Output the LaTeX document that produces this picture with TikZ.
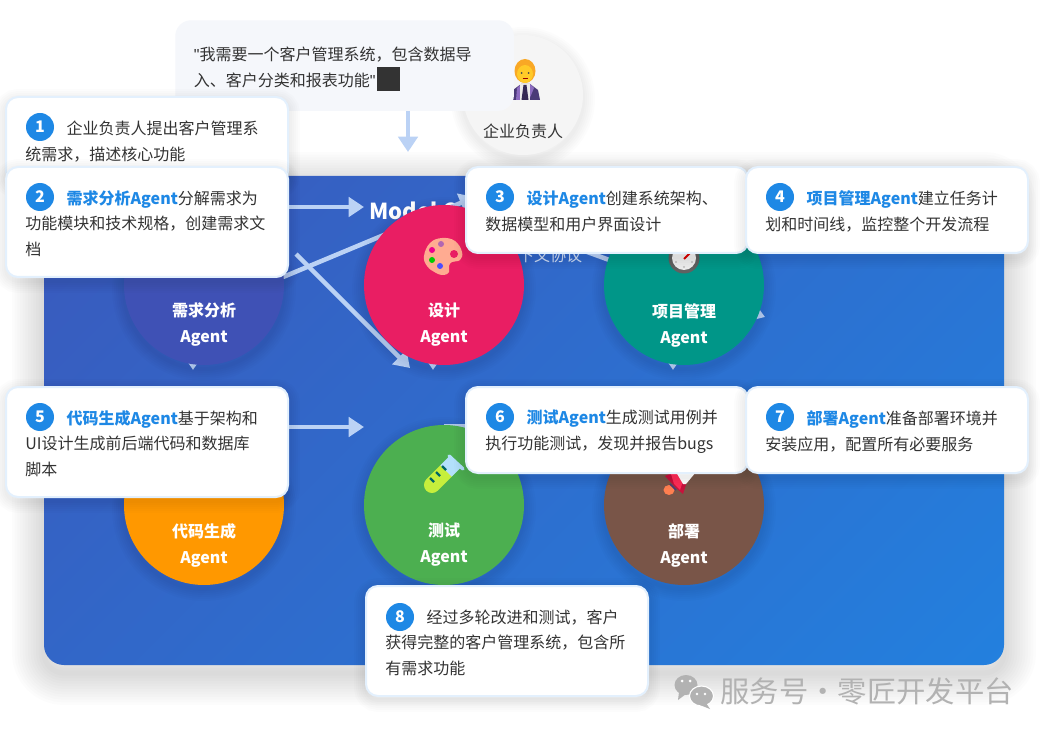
\documentclass[tikz,border=0pt]{standalone}
\usepackage{fontspec}
\setmainfont{Noto Sans CJK SC}
\newfontfamily\quotefont{Liberation Sans}
\usepackage{xcolor}
\usetikzlibrary{arrows.meta}

\definecolor{flowline}{HTML}{BBD2F5}
\definecolor{cardedge}{HTML}{E3F0FD}
\definecolor{badgeblue}{HTML}{1E88E5}
\definecolor{bodytext}{HTML}{333333}
\definecolor{panelstart}{HTML}{3F51B5}
\definecolor{panelend}{HTML}{1E88E5}
\definecolor{markgray}{HTML}{B2B2B2}
\definecolor{bubblefill}{HTML}{F5F7FB}
\definecolor{reqfill}{HTML}{3F51B5}
\definecolor{designfill}{HTML}{E91E63}
\definecolor{pmfill}{HTML}{009688}
\definecolor{codefill}{HTML}{FF9800}
\definecolor{testfill}{HTML}{4CAF50}
\definecolor{deployfill}{HTML}{795548}
\definecolor{tubeliquid}{HTML}{C6EF3C}
\definecolor{tubeglass}{HTML}{B3E0FB}
\definecolor{palettefill}{HTML}{FFAB91}
\definecolor{rocketbody}{HTML}{FF2D5A}
\definecolor{rocketfin}{HTML}{C8123C}
\definecolor{rocketflame}{HTML}{FF7F50}
\definecolor{suitdark}{HTML}{4A3A78}
\definecolor{suitlight}{HTML}{8C6CC0}
\definecolor{hairfill}{HTML}{F9A825}
\definecolor{facefill}{HTML}{FFCA28}

\newcommand{\agentname}[1]{\textcolor{badgeblue}{\textbf{#1}}}
\newcommand{\leadin}{\rule{0pt}{12.5pt}\hspace*{31pt}}

\tikzset{
  softlayer/.style={preaction={draw=black,line width=#1,opacity=0.011,transform canvas={yshift=-3pt}}},
  softshadow/.style={softlayer=3pt,softlayer=6pt,softlayer=9pt,softlayer=12pt,softlayer=15pt,softlayer=18pt},
  card/.style={draw=cardedge,line width=1.5pt,fill=white,rounded corners=9pt,anchor=north west,
    minimum width=211.5pt,minimum height=64.5pt,inner xsep=14.5pt,inner ysep=0pt,text width=182.5pt,align=left,
    text=bodytext,font=\fontsize{12}{19.2}\selectfont,softshadow},
  tallcard/.style={card,minimum height=82.5pt},
  badge/.style={circle,fill=badgeblue,text=white,minimum size=21pt,inner sep=0pt,font=\fontsize{12}{12}\selectfont\bfseries},
  agent/.style={circle,minimum size=120pt,inner sep=0pt,softshadow},
  agentlabel/.style={text=white,align=center,inner sep=0pt,font=\fontsize{12}{19.5}\selectfont\bfseries},
  flow/.style={draw=flowline,line width=3.4pt,-{Triangle[length=11.5pt,width=14.5pt]}},
  panellayer/.style={preaction={draw=black,line width=#1,opacity=0.010,transform canvas={yshift=-6pt}}}
}

\begin{document}
\begin{tikzpicture}[x=0.75pt,y=-0.75pt]
\useasboundingbox (0,0) rectangle (1046,734);
\fill[white] (0,0) rectangle (1046,734);

% Panel
\path[rounded corners=15pt,panellayer=4pt,panellayer=8pt,panellayer=12pt,panellayer=16pt,panellayer=20pt,panellayer=24pt,panellayer=28pt,panellayer=32pt,panellayer=36pt,panellayer=40pt,panellayer=44pt,panellayer=48pt] (44,176) rectangle (1004,665);
\begin{scope}
\clip[rounded corners=15pt] (44,176) rectangle (1004,665);
\shade[top color=panelstart,bottom color=panelend,shading angle=45] (-200.5,-304) rectangle (1248.5,1145);
\end{scope}
\node[text=white,anchor=west,inner sep=0pt,font=\fontsize{16.5}{20}\selectfont\bfseries] (mcptitle) at (369,211) {Model C};
\node[text=white,opacity=0.75,inner sep=0pt,font=\fontsize{12}{14}\selectfont] (mcpsub) at (542,255) {上下文协议};

% Client
\node[circle,fill=black!4,minimum size=90pt,inner sep=0pt,softshadow] (client) at (523,95) {};
\node[text=bodytext,inner sep=0pt,font=\fontsize{12}{14}\selectfont] (clientlabel) at (523,131) {企业负责人};
\fill[suitdark] (511,100) -- (513,90) -- (521,84) -- (530,84) -- (538,90) -- (540,100) -- cycle;
\fill[suitlight] (516,100) -- (517,88) -- (521,84) -- (522,100) -- cycle;
\fill[suitlight] (529,100) -- (534,88) -- (530,84) -- (528,100) -- cycle;
\fill[black!8] (520,84) -- (530,84) -- (530,100) -- (520,100) -- cycle;
\fill[suitdark!70!black] (523.5,85) -- (526.5,85) -- (528.5,100) -- (521.5,100) -- cycle;
\fill[hairfill] (525,71) ellipse [x radius=10.5,y radius=12];
\fill[facefill] (525,74) ellipse [x radius=8,y radius=9];
\fill[black!70] (521.5,73) circle (1) (528.5,73) circle (1);
\draw[red!60!black,line width=0.5pt] (522.5,78.5) -- (527.5,78.5);

% Request bubble
\node[fill=bubblefill,rounded corners=12pt,minimum width=254pt,minimum height=68pt,anchor=north west,inner xsep=14pt,inner ysep=0pt,text width=226pt,align=left,text=bodytext,font=\fontsize{12}{19.5}\selectfont] (request) at (175,20) {\rule{0pt}{13pt}{\quotefont"}我需要一个客户管理系统，包含数据导\\入、客户分类和报表功能{\quotefont"}};
\node[fill=bodytext,minimum width=17pt,minimum height=18pt,inner sep=0pt,anchor=north west] (blocked) at (377,67) {};

% Flow lines
\coordinate (downend) at (408,152);
\coordinate (reqright) at (250,207);
\coordinate (titleleft) at (364,207);
\coordinate (reqstart) at (204,310);
\coordinate (designtip) at (475,197);
\coordinate (crossstart) at (296,254);
\coordinate (crossend) at (410,368);
\coordinate (designright) at (500,220);
\coordinate (pmtip) at (765,317);
\coordinate (codestart) at (250,427);
\coordinate (testleft) at (364,427);
\coordinate (teststart) at (444,426);
\coordinate (deployleft) at (604,426);
\coordinate (reqtop) at (193,300);
\coordinate (reqtip) at (193,370);
\coordinate (designtop) at (433,300);
\coordinate (designtipb) at (433,370);
\coordinate (pmtop) at (673,300);
\coordinate (pmtipb) at (673,370);
\draw[flow] (request.south -| downend) -- (downend);
\draw[flow] (reqright) -- (titleleft);
\draw[flow] (reqstart) -- (designtip);
\draw[flow] (crossstart) -- (crossend);
\draw[flow] (designright) -- (pmtip);
\draw[flow] (codestart) -- (testleft);
\draw[flow] (teststart) -- (deployleft);
\draw[flow] (reqtop) -- (reqtip);
\draw[flow] (designtop) -- (designtipb);
\draw[flow] (pmtop) -- (pmtipb);

% Agents
\node[agent,fill=reqfill] (reqagent) at (204,285) {};
\node[agent,fill=designfill] (designagent) at (444,285) {};
\node[agent,fill=pmfill] (pmagent) at (684,285) {};
\node[agent,fill=codefill] (codeagent) at (204,505) {};
\node[agent,fill=testfill] (testagent) at (444,505) {};
\node[agent,fill=deployfill] (deployagent) at (684,505) {};

\node[agentlabel] (reqlabel) at (204,325) {需求分析\\Agent};
\node[agentlabel] (designlabel) at (444,325) {设计\\Agent};
\node[agentlabel] (pmlabel) at (684,325) {项目管理\\Agent};
\node[agentlabel] (codelabel) at (204,545) {代码生成\\Agent};
\node[agentlabel] (testlabel) at (444,545) {测试\\Agent};
\node[agentlabel] (deploylabel) at (684,545) {部署\\Agent};

% Palette
\fill[palettefill] plot[smooth cycle,tension=0.7] coordinates {(424,256) (430,243) (442,238) (455,241) (462,252) (460,260) (452,262) (449,266) (449,272) (444,275) (436,273) (427,266)};
\fill[violet!60!white] (441,244) circle (3);
\fill[magenta] (432,250) circle (3);
\fill[green!80!black] (432,260) circle (3);
\fill[blue!70!white] (440,266) circle (3);
\fill[designfill] (454,254) circle (4);

% Stopwatch
\fill[black!62] (684,258) circle (15.5);
\fill[black!7] (684,258) circle (12);
\fill[black!25] (684,267) circle (1.2) (676,262) circle (1.2) (692,262) circle (1.2);
\draw[red!85!black,line width=1.4pt] (684,259) -- (692,251);

% Test tube
\draw[draw=tubeliquid,line width=12pt,line cap=round] (432,485) -- (446,471);
\draw[draw=tubeglass,line width=12pt] (446,471) -- (456,461);
\draw[draw=tubeglass,line width=2.6pt,line cap=round] (449,456) -- (463,469);
\draw[draw=teal!80!black,line width=1.6pt] (430,478) -- (434,482);
\draw[draw=teal!80!black,line width=1.6pt] (436,472) -- (440,476);
\draw[draw=teal!80!black,line width=1.6pt] (442,466) -- (446,470);

% Rocket
\fill[rocketfin] (665,476) -- (674,472) -- (690,472) -- (683,494) -- (676,488) -- cycle;
\fill[rocketbody] (671,474) -- (682,472) -- (686,472) -- (680,490) -- (674,484) -- cycle;
\fill[white] (676,472) -- (696,472) -- (686,484) -- (683,484) -- cycle;
\fill[rocketflame] (669,490) ellipse [x radius=5.5,y radius=5];
\draw[suitdark,line width=1.2pt] (670,484) -- (676,490);

% Steps
\node[card] (stepone) at (5,96) {\leadin 企业负责人提出客户管理系\\统需求，描述核心功能};
\node[badge] (numone) at (40,127) {1};
\node[tallcard] (steptwo) at (5,166) {\leadin\agentname{需求分析Agent}分解需求为\\功能模块和技术规格，创建需求文\\档};
\node[badge] (numtwo) at (40,197) {2};
\node[card] (stepthree) at (465,166) {\leadin\agentname{设计Agent}创建系统架构、\\数据模型和用户界面设计};
\node[badge] (numthree) at (500,197) {3};
\node[card] (stepfour) at (745,166) {\leadin\agentname{项目管理Agent}建立任务计\\划和时间线，监控整个开发流程};
\node[badge] (numfour) at (780,197) {4};
\node[tallcard] (stepfive) at (5,386) {\leadin\agentname{代码生成Agent}基于架构和\\UI设计生成前后端代码和数据库\\脚本};
\node[badge] (numfive) at (40,417) {5};
\node[card] (stepsix) at (465,386) {\leadin\agentname{测试Agent}生成测试用例并\\执行功能测试，发现并报告bugs};
\node[badge] (numsix) at (500,417) {6};
\node[card] (stepseven) at (745,386) {\leadin\agentname{部署Agent}准备部署环境并\\安装应用，配置所有必要服务};
\node[badge] (numseven) at (780,417) {7};
\node[tallcard] (stepeight) at (365,585) {\leadin 经过多轮改进和测试，客户\\获得完整的客户管理系统，包含所\\有需求功能};
\node[badge] (numeight) at (400,617) {8};

% Watermark
\fill[markgray] (686,685) ellipse [x radius=11.5,y radius=10];
\fill[markgray] (679,692) -- (678,700) -- (686,694) -- cycle;
\fill[markgray,draw=white,line width=0.8pt] (701.5,696) ellipse [x radius=12,y radius=10];
\fill[markgray] (706,703) -- (710,709) -- (700,705) -- cycle;
\fill[white] (682,681) circle (1.5) (690,681) circle (1.5) (697,694) circle (1.3) (705,694) circle (1.3);
\node[text=markgray,inner sep=0pt,font=\fontsize{22}{24}\selectfont] (watermark) at (867,691) {服务号·零匠开发平台};
\end{tikzpicture}
\end{document}
